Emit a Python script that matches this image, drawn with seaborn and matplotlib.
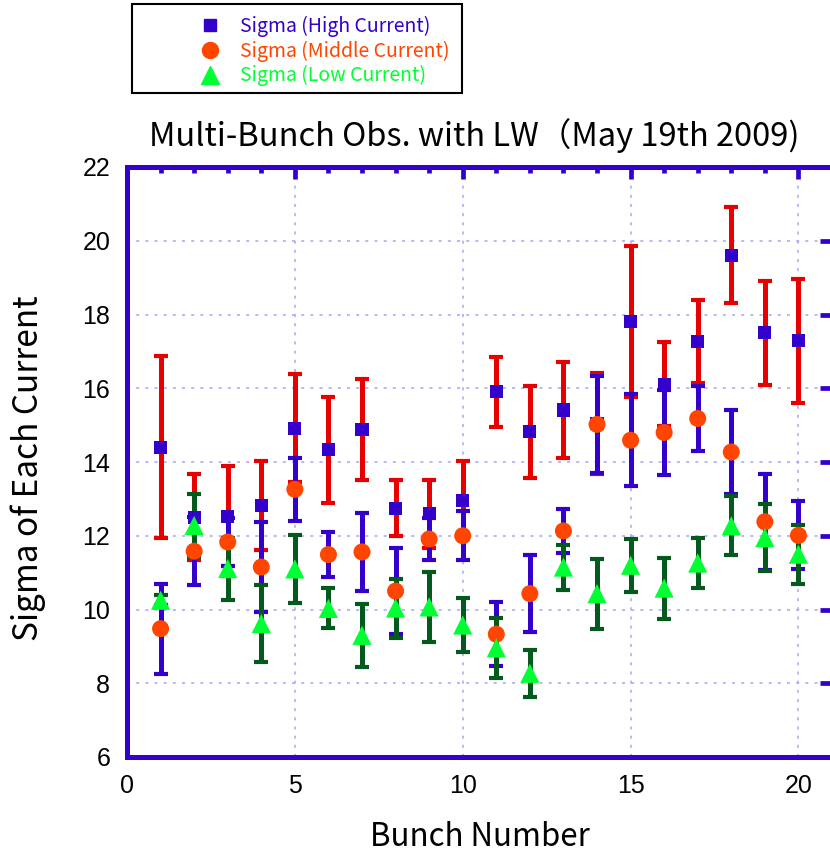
import matplotlib
matplotlib.use("Agg")
import matplotlib.pyplot as plt
import numpy as np
import pandas as pd
import seaborn as sns
from matplotlib.lines import Line2D
from matplotlib.patches import Rectangle

# ---------------- data ----------------
bunch = list(range(1, 21))
high = [14.40, 12.50, 12.53, 12.82, 14.92, 14.33, 14.88, 12.75, 12.60, 12.96,
        15.90, 14.82, 15.41, 15.05, 17.80, 16.11, 17.26, 19.61, 17.50, 17.29]
high_err = [2.47, 1.17, 1.36, 1.21, 1.47, 1.43, 1.37, 0.75, 0.92, 1.06,
            0.95, 1.25, 1.31, 1.37, 2.05, 1.14, 1.13, 1.30, 1.40, 1.68]
middle = [9.48, 11.58, 11.83, 11.15, 13.26, 11.49, 11.56, 10.50, 11.91, 12.00,
          9.33, 10.43, 12.13, 15.02, 14.59, 14.80, 15.18, 14.27, 12.38, 12.01]
middle_err = [1.22, 0.92, 0.64, 1.23, 0.85, 0.60, 1.07, 1.17, 0.57, 0.66,
              0.86, 1.04, 0.59, 1.31, 1.25, 1.16, 0.88, 1.13, 1.30, 0.92]
low = [10.25, 12.28, 11.11, 9.62, 11.10, 10.03, 9.30, 10.04, 10.07, 9.58,
       8.96, 8.27, 11.15, 10.43, 11.20, 10.58, 11.26, 12.27, 11.95, 11.50]
low_err = [0.13, 0.86, 0.84, 1.05, 0.93, 0.54, 0.86, 0.80, 0.95, 0.72,
           0.82, 0.63, 0.61, 0.95, 0.72, 0.83, 0.67, 0.80, 0.90, 0.80]
labels = ["Sigma (High Current)", "Sigma (Middle Current)", "Sigma (Low Current)"]
x_ticks = [0, 5, 10, 15, 20]
y_ticks = [6, 8, 10, 12, 14, 16, 18, 20, 22]

df = pd.DataFrame({"bunch": bunch, "high": high, "middle": middle, "low": low})

# ---------------- style ----------------
sns.set_style("white")
plt.rcParams["font.family"] = ["Noto Sans CJK JP", "DejaVu Sans"]
plt.rcParams["text.color"] = "black"
plt.rcParams["axes.labelcolor"] = "black"
plt.rcParams["xtick.labelcolor"] = "black"
plt.rcParams["ytick.labelcolor"] = "black"

BLUE = "#3300CC"
RED = "#E60000"
ORANGE = "#FF4500"
GREEN = "#00FF33"
DKGREEN = "#045A1C"
GRID = "#A6A6F2"
NARROW = ["Liberation Sans Narrow", "Liberation Sans", "DejaVu Sans"]

fig = plt.figure(figsize=(8.3, 8.56), dpi=100)
ax = fig.add_axes([127 / 830, 99 / 856, 705 / 830, 590 / 856])

eb_kw = dict(fmt="none", elinewidth=3.6, capsize=5, capthick=3.0)
ax.errorbar(df["bunch"], df["high"], yerr=high_err, ecolor=RED, zorder=3, **eb_kw)
ax.errorbar(df["bunch"], df["middle"], yerr=middle_err, ecolor=BLUE, zorder=3.1, **eb_kw)
ax.errorbar(df["bunch"], df["low"], yerr=low_err, ecolor=DKGREEN, zorder=3.2, **eb_kw)

sns.scatterplot(data=df, x="bunch", y="high", marker="s", s=88, color=BLUE,
                edgecolor="none", linewidth=0, ax=ax, zorder=4)
sns.scatterplot(data=df, x="bunch", y="middle", marker="o", s=150, color=ORANGE,
                edgecolor="none", linewidth=0, ax=ax, zorder=4.1)
sns.scatterplot(data=df, x="bunch", y="low", marker="^", s=190, color=GREEN,
                edgecolor="none", linewidth=0, ax=ax, zorder=4.2)

ax.set_xlim(0, 21)
ax.set_ylim(6, 22)
ax.set_xticks(x_ticks, labels=[str(v) for v in x_ticks], family=NARROW, fontsize=18)
ax.set_xticks(range(0, 22), minor=True)
ax.set_yticks(y_ticks, labels=[str(v) for v in y_ticks], family=NARROW, fontsize=18)
ax.tick_params(which="both", direction="in", top=True, right=True, color=BLUE, width=3.4)
ax.tick_params(which="major", length=8.6, pad=12)
ax.tick_params(which="minor", length=4.3)
for s in ax.spines.values():
    s.set_color(BLUE)
    s.set_linewidth(3.6)
ax.grid(True, which="major", color=GRID, linestyle=(0, (2, 4)), linewidth=1.1)
ax.set_axisbelow(True)

ax.set_title("Multi-Bunch Obs. with LW（May 19th 2009)", fontsize=23.5, pad=15, x=0.492)
ax.set_xlabel("Bunch Number", fontsize=22.5)
ax.xaxis.set_label_coords(0.50, -0.108)
ax.set_ylabel("Sigma of Each Current", fontsize=24)
ax.yaxis.set_label_coords(-0.115, 0.49)

# ---------------- legend ----------------
handles = [
    Line2D([], [], marker="s", color=BLUE, linestyle="none", markersize=9),
    Line2D([], [], marker="o", color=ORANGE, linestyle="none", markersize=11.5),
    Line2D([], [], marker="^", color=GREEN, linestyle="none", markersize=13),
]
leg = fig.legend(handles, labels, loc="upper left",
                 bbox_to_anchor=(195 / 830, 1 - 16 / 856), frameon=False,
                 fontsize=14, handlelength=1.5, handletextpad=0.8,
                 labelspacing=0.18, borderpad=0, borderaxespad=0)
for t, c in zip(leg.get_texts(), [BLUE, ORANGE, GREEN]):
    t.set_color(c)
fig.add_artist(Rectangle((132 / 830, 1 - 93 / 856), 330 / 830, 89 / 856,
                         transform=fig.transFigure, fill=False,
                         edgecolor="black", linewidth=1.5))

fig.savefig("out.png", dpi=100)
